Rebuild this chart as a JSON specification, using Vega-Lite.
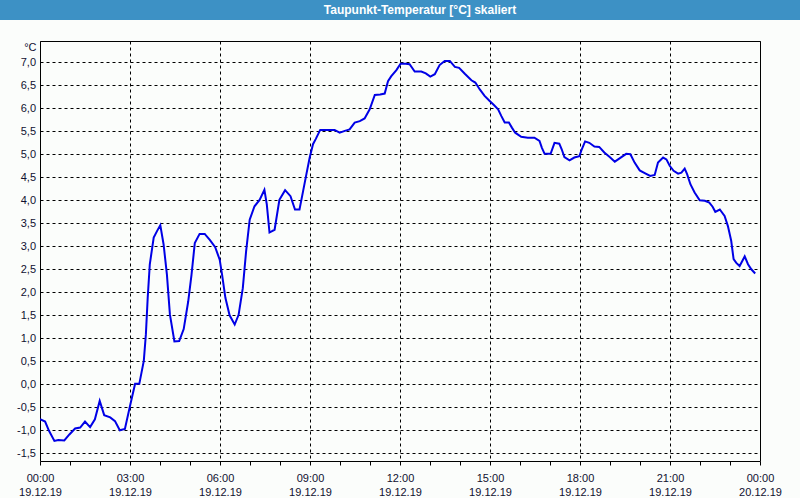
{
  "$schema": "https://vega.github.io/schema/vega-lite/v6.json",
  "padding": 0,
  "spacing": 20,
  "background": "#fbfdfb",
  "config": {"font": "Liberation Sans"},
  "vconcat": [
    {
      "width": 800,
      "height": 20,
      "view": {"fill": "#3d91c5", "stroke": null},
      "data": {"values": [{"t": "Taupunkt-Temperatur [°C] skaliert"}]},
      "mark": {"type": "text", "color": "white", "fontWeight": "bold", "fontSize": 12, "font": "Liberation Sans", "dx": 20, "baseline": "middle"},
      "encoding": {"text": {"field": "t"}}
    },
    {
      "hconcat": [
        {
          "width": 40,
          "height": 420,
          "view": {"stroke": null},
          "data": {"values": []},
          "mark": "point"
        },
        {
          "width": 720,
          "height": 420,
          "view": {"stroke": "black", "strokeWidth": 1},
          "data": {"values": [
            {"h":0,"v":-0.76},{"h":0.17,"v":-0.81},{"h":0.3,"v":-1.01},{"h":0.48,"v":-1.23},{"h":0.61,"v":-1.21},{"h":0.81,"v":-1.22},{"h":0.98,"v":-1.09},{"h":1.17,"v":-0.96},{"h":1.34,"v":-0.94},{"h":1.5,"v":-0.81},{"h":1.67,"v":-0.93},{"h":1.83,"v":-0.76},{"h":1.99,"v":-0.36},{"h":2.14,"v":-0.67},{"h":2.34,"v":-0.72},{"h":2.5,"v":-0.8},{"h":2.66,"v":-1.0},{"h":2.83,"v":-0.97},{"h":3.0,"v":-0.47},{"h":3.17,"v":0.01},{"h":3.31,"v":0.01},{"h":3.46,"v":0.51},{"h":3.53,"v":1.09},{"h":3.59,"v":1.88},{"h":3.66,"v":2.61},{"h":3.79,"v":3.19},{"h":3.9,"v":3.33},{"h":4.01,"v":3.46},{"h":4.12,"v":3.04},{"h":4.23,"v":2.39},{"h":4.33,"v":1.52},{"h":4.48,"v":0.93},{"h":4.64,"v":0.94},{"h":4.79,"v":1.2},{"h":4.94,"v":1.8},{"h":5.05,"v":2.38},{"h":5.16,"v":3.07},{"h":5.32,"v":3.27},{"h":5.49,"v":3.27},{"h":5.66,"v":3.14},{"h":5.84,"v":2.98},{"h":5.99,"v":2.71},{"h":6.07,"v":2.38},{"h":6.18,"v":1.88},{"h":6.32,"v":1.5},{"h":6.49,"v":1.3},{"h":6.62,"v":1.51},{"h":6.76,"v":2.09},{"h":6.87,"v":2.89},{"h":6.99,"v":3.58},{"h":7.15,"v":3.87},{"h":7.32,"v":4.01},{"h":7.48,"v":4.23},{"h":7.56,"v":3.91},{"h":7.65,"v":3.3},{"h":7.82,"v":3.36},{"h":7.98,"v":4.01},{"h":8.17,"v":4.22},{"h":8.35,"v":4.09},{"h":8.5,"v":3.8},{"h":8.65,"v":3.8},{"h":8.77,"v":4.2},{"h":8.88,"v":4.57},{"h":8.99,"v":4.93},{"h":9.1,"v":5.22},{"h":9.19,"v":5.33},{"h":9.34,"v":5.53},{"h":9.54,"v":5.53},{"h":9.82,"v":5.53},{"h":9.99,"v":5.47},{"h":10.16,"v":5.51},{"h":10.32,"v":5.54},{"h":10.49,"v":5.69},{"h":10.66,"v":5.72},{"h":10.82,"v":5.78},{"h":10.99,"v":5.98},{"h":11.16,"v":6.29},{"h":11.34,"v":6.3},{"h":11.49,"v":6.32},{"h":11.6,"v":6.59},{"h":11.71,"v":6.7},{"h":11.88,"v":6.83},{"h":12.02,"v":6.97},{"h":12.19,"v":6.97},{"h":12.32,"v":6.96},{"h":12.49,"v":6.8},{"h":12.71,"v":6.8},{"h":12.86,"v":6.76},{"h":13.01,"v":6.69},{"h":13.16,"v":6.74},{"h":13.32,"v":6.94},{"h":13.49,"v":7.03},{"h":13.66,"v":7.03},{"h":13.83,"v":6.9},{"h":13.97,"v":6.88},{"h":14.16,"v":6.75},{"h":14.38,"v":6.61},{"h":14.51,"v":6.56},{"h":14.66,"v":6.41},{"h":14.82,"v":6.27},{"h":14.99,"v":6.16},{"h":15.13,"v":6.07},{"h":15.27,"v":5.98},{"h":15.38,"v":5.83},{"h":15.49,"v":5.69},{"h":15.63,"v":5.69},{"h":15.73,"v":5.58},{"h":15.84,"v":5.47},{"h":16.04,"v":5.38},{"h":16.26,"v":5.36},{"h":16.48,"v":5.36},{"h":16.65,"v":5.29},{"h":16.73,"v":5.14},{"h":16.82,"v":5.01},{"h":17.02,"v":5.01},{"h":17.15,"v":5.25},{"h":17.31,"v":5.23},{"h":17.39,"v":5.11},{"h":17.48,"v":4.94},{"h":17.65,"v":4.87},{"h":17.81,"v":4.93},{"h":17.98,"v":4.96},{"h":18.06,"v":5.11},{"h":18.17,"v":5.28},{"h":18.31,"v":5.25},{"h":18.48,"v":5.17},{"h":18.64,"v":5.16},{"h":18.81,"v":5.04},{"h":18.99,"v":4.94},{"h":19.16,"v":4.84},{"h":19.32,"v":4.91},{"h":19.54,"v":5.01},{"h":19.68,"v":5.0},{"h":19.82,"v":4.82},{"h":19.99,"v":4.65},{"h":20.19,"v":4.58},{"h":20.34,"v":4.53},{"h":20.49,"v":4.55},{"h":20.6,"v":4.82},{"h":20.77,"v":4.93},{"h":20.88,"v":4.89},{"h":20.99,"v":4.75},{"h":21.12,"v":4.64},{"h":21.27,"v":4.58},{"h":21.38,"v":4.6},{"h":21.49,"v":4.69},{"h":21.57,"v":4.57},{"h":21.68,"v":4.35},{"h":21.82,"v":4.17},{"h":21.99,"v":4.0},{"h":22.16,"v":3.99},{"h":22.31,"v":3.95},{"h":22.42,"v":3.86},{"h":22.51,"v":3.75},{"h":22.66,"v":3.8},{"h":22.82,"v":3.66},{"h":22.93,"v":3.44},{"h":23.04,"v":3.12},{"h":23.12,"v":2.72},{"h":23.21,"v":2.64},{"h":23.32,"v":2.57},{"h":23.41,"v":2.68},{"h":23.49,"v":2.78},{"h":23.6,"v":2.61},{"h":23.71,"v":2.5},{"h":23.84,"v":2.41}
          ]},
          "mark": {"type": "line", "color": "#0000e6", "strokeWidth": 2, "clip": true},
          "encoding": {
            "x": {
              "field": "h", "type": "quantitative",
              "scale": {"domain": [0, 24], "nice": false, "zero": false},
              "axis": {
                "title": null,
                "values": [0,1,2,3,4,5,6,7,8,9,10,11,12,13,14,15,16,17,18,19,20,21,22,23,24],
                "labelExpr": "datum.value % 3 == 0 ? [(datum.value == 24 ? '00' : (datum.value < 10 ? '0' : '') + datum.value) + ':00', datum.value == 24 ? '20.12.19' : '19.12.19'] : ''",
                "grid": true, "gridDash": [3, 3], "gridColor": "black", "gridWidth": 1,
                "gridOpacity": {"condition": {"test": "datum.value % 3 == 0", "value": 1}, "value": 0},
                "domain": false, "ticks": true, "tickSize": 4, "tickColor": "black", "tickWidth": 1,
                "labelPadding": 7, "labelBaseline": "top", "labelLineHeight": 14,
                "labelFontSize": 11, "labelFont": "Liberation Sans", "labelColor": "#101030",
                "labelOverlap": false, "labelFlush": false, "labelBound": false
              }
            },
            "y": {
              "field": "v", "type": "quantitative",
              "scale": {"domain": [-1.667, 7.463], "nice": false, "zero": false},
              "axis": {
                "title": "°C", "titleAngle": 0, "titleX": -4, "titleY": 0, "titleAlign": "right", "titleBaseline": "top",
                "titleFontWeight": "normal", "titleFontSize": 11, "titleFont": "Liberation Sans", "titleColor": "#101030",
                "values": [-1.5,-1,-0.5,0,0.5,1,1.5,2,2.5,3,3.5,4,4.5,5,5.5,6,6.5,7],
                "labelExpr": "replace(replace(format(datum.value, '.1f'), '.', ','), '\u2212', '-')",
                "ticks": false, "domain": false, "labelPadding": 4.5,
                "labelFontSize": 11, "labelFont": "Liberation Sans", "labelColor": "#101030",
                "grid": true, "gridDash": [3, 3], "gridColor": "black", "gridWidth": 1,
                "labelOverlap": false
              }
            }
          }
        }
      ],
      "spacing": 0,
      "bounds": "flush"
    }
  ]
}
